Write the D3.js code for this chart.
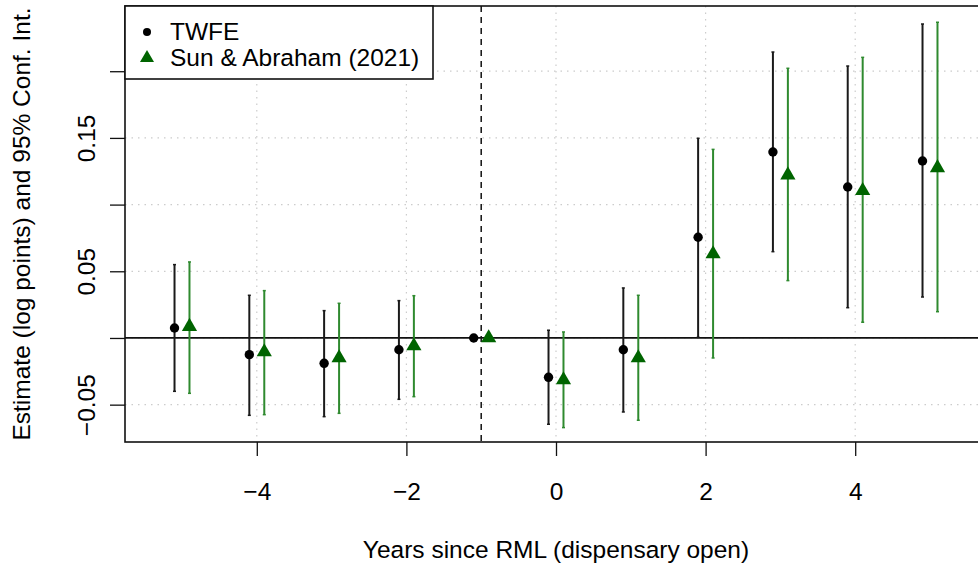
<!DOCTYPE html>
<html lang="en">
<head>
  <meta charset="UTF-8" />
  <title>Event study: TWFE vs Sun & Abraham</title>
  <script src="https://d3js.org/d3.v7.min.js"></script>
  <style>
    body { margin: 0; background: white; }
    svg { display: block; }
    text { font-family: "Liberation Sans", Arial, Helvetica, sans-serif; fill: black; }
  </style>
</head>
<body>
  <svg width="978" height="565"></svg>

  <script>
    // Years since RML
    const years = [-5, -4, -3, -2, -1, 0, 1, 2, 3, 4, 5];

    // TWFE estimates and 95% CI
    const twfeEst = [0.0075, -0.0125, -0.0190, -0.0088, 0.0, -0.0295, -0.0088, 0.0755, 0.1394, 0.1132, 0.1327];
    const twfeLo  = [-0.0400, -0.0580, -0.0590, -0.0460, 0.0, -0.0647, -0.0555, 0.0005, 0.0647, 0.0227, 0.0307];
    const twfeHi  = [0.0550, 0.0320, 0.0205, 0.0280, 0.0, 0.0058, 0.0375, 0.1497, 0.2144, 0.2039, 0.2354];

    // Sun & Abraham (2021) estimates and 95% CI
    const saEst = [0.0085, -0.0105, -0.0150, -0.0060, 0.0, -0.0315, -0.0150, 0.0630, 0.1221, 0.1104, 0.1276];
    const saLo  = [-0.0415, -0.0575, -0.0565, -0.0440, 0.0, -0.0672, -0.0617, -0.0150, 0.0430, 0.0118, 0.0197];
    const saHi  = [0.0570, 0.0355, 0.0260, 0.0317, 0.0, 0.0045, 0.0320, 0.1414, 0.2022, 0.2104, 0.2367];

    const xTicks = [-4, -2, 0, 2, 4];
    const yTicks = [-0.05, 0, 0.05, 0.10, 0.15, 0.20];
    const yLabelled = [-0.05, 0.05, 0.15];

    const seriesNames = ["TWFE", "Sun & Abraham (2021)"];

    const svg = d3.select("svg");
    const fontSize = "24.5px";

    const margin = { top: 6, left: 125 },
          plotRight = 987,
          plotBottom = 442;

    const x = d3.scaleLinear()
      .domain([-5.762, 5.762])
      .range([margin.left, plotRight]);

    const y = d3.scaleLinear()
      .domain([-0.0780, 0.2489])
      .range([plotBottom, margin.top]);

    const minus = s => s.replace("-", "\u2212");

    // grid
    svg.append("g").selectAll("line")
      .data(xTicks)
      .join("line")
      .attr("x1", d => x(d)).attr("x2", d => x(d))
      .attr("y1", margin.top).attr("y2", plotBottom)
      .attr("stroke", "#cccccc")
      .attr("stroke-width", 1.2)
      .attr("stroke-dasharray", "1.5,5");

    svg.append("g").selectAll("line")
      .data(yTicks)
      .join("line")
      .attr("x1", margin.left).attr("x2", plotRight)
      .attr("y1", d => y(d)).attr("y2", d => y(d))
      .attr("stroke", "#cccccc")
      .attr("stroke-width", 1.2)
      .attr("stroke-dasharray", "1.5,5");

    // reference lines
    svg.append("line")
      .attr("x1", margin.left).attr("x2", plotRight)
      .attr("y1", y(0)).attr("y2", y(0))
      .attr("stroke", "#111")
      .attr("stroke-width", 1.8);

    svg.append("line")
      .attr("x1", x(-1)).attr("x2", x(-1))
      .attr("y1", margin.top).attr("y2", plotBottom)
      .attr("stroke", "#111")
      .attr("stroke-width", 1.5)
      .attr("stroke-dasharray", "6,5");

    // axes (R style: ticks outside, labels only on some y ticks)
    const xAxis = d3.axisBottom(x)
      .tickValues(xTicks)
      .tickSize(14)
      .tickPadding(27)
      .tickFormat(d => minus(d3.format("d")(d)));

    const gx = svg.append("g")
      .attr("transform", `translate(0,${plotBottom})`)
      .call(xAxis);
    gx.select(".domain").remove();
    gx.selectAll(".tick line").attr("stroke", "#111").attr("stroke-width", 1.3);
    gx.selectAll(".tick text")
      .style("font-size", fontSize)
      .attr("fill", "black");

    const yAxis = d3.axisLeft(y)
      .tickValues(yTicks)
      .tickSize(15)
      .tickFormat(d => yLabelled.some(v => Math.abs(v - d) < 1e-9) ? minus(d3.format(".2f")(d)) : "");

    const gy = svg.append("g")
      .attr("transform", `translate(${margin.left},0)`)
      .call(yAxis);
    gy.select(".domain").remove();
    gy.selectAll(".tick line").attr("stroke", "#111").attr("stroke-width", 1.3);
    gy.selectAll(".tick text")
      .attr("x", 0)
      .attr("dy", 0)
      .attr("text-anchor", "middle")
      .attr("transform", "translate(-30,0) rotate(-90)")
      .style("font-size", fontSize)
      .attr("fill", "black");

    // series
    const series = [
      { name: seriesNames[0], est: twfeEst, lo: twfeLo, hi: twfeHi, off: -0.1,
        bar: "#1a1a1a", mark: "black", shape: "circle" },
      { name: seriesNames[1], est: saEst, lo: saLo, hi: saHi, off: 0.1,
        bar: "#2f8a2f", mark: "#006400", shape: "triangle" }
    ];

    const circle = d3.symbol().type(d3.symbolCircle).size(Math.PI * 4.7 * 4.7);
    const triangle = d3.symbol().type(d3.symbolTriangle).size(100);

    series.forEach(s => {
      const g = svg.append("g");
      const rows = years.map((yr, i) => ({ yr, est: s.est[i], lo: s.lo[i], hi: s.hi[i] }));

      // confidence intervals (skip the reference year)
      const ci = rows.filter(d => d.lo !== d.hi);
      g.selectAll(".ci")
        .data(ci)
        .join("line")
        .attr("x1", d => x(d.yr + s.off)).attr("x2", d => x(d.yr + s.off))
        .attr("y1", d => y(d.lo)).attr("y2", d => y(d.hi))
        .attr("stroke", s.bar)
        .attr("stroke-width", 2);

      ["lo", "hi"].forEach(k => {
        g.selectAll(".cap-" + k)
          .data(ci)
          .join("line")
          .attr("x1", d => x(d.yr + s.off) - 1.5).attr("x2", d => x(d.yr + s.off) + 1.5)
          .attr("y1", d => y(d[k])).attr("y2", d => y(d[k]))
          .attr("stroke", s.bar)
          .attr("stroke-width", 1.5);
      });

      g.selectAll(".pt")
        .data(rows)
        .join("path")
        .attr("transform", d => `translate(${x(d.yr + s.off)},${y(d.est)})`)
        .attr("d", s.shape === "circle" ? circle() : triangle())
        .attr("fill", s.mark);
    });

    // plot box
    svg.append("rect")
      .attr("x", margin.left).attr("y", margin.top)
      .attr("width", plotRight - margin.left)
      .attr("height", plotBottom - margin.top)
      .attr("fill", "none")
      .attr("stroke", "#111")
      .attr("stroke-width", 1.6);

    // legend
    const lg = svg.append("g");
    lg.append("rect")
      .attr("x", margin.left).attr("y", margin.top)
      .attr("width", 308).attr("height", 73)
      .attr("fill", "white")
      .attr("stroke", "#111")
      .attr("stroke-width", 1.6);

    lg.append("path")
      .attr("transform", "translate(147,32)")
      .attr("d", d3.symbol().type(d3.symbolCircle).size(Math.PI * 4 * 4)())
      .attr("fill", "black");
    lg.append("path")
      .attr("transform", "translate(147,58)")
      .attr("d", d3.symbol().type(d3.symbolTriangle).size(85)())
      .attr("fill", "#006400");

    lg.selectAll("text")
      .data(seriesNames)
      .join("text")
      .attr("x", 170)
      .attr("y", (d, i) => 31 + i * 26)
      .attr("dy", "0.35em")
      .style("font-size", fontSize)
      .text(d => d);

    // axis titles
    svg.append("text")
      .attr("x", x(0))
      .attr("y", 549)
      .attr("dy", "0.35em")
      .attr("text-anchor", "middle")
      .style("font-size", fontSize)
      .text("Years since RML (dispensary open)");

    svg.append("text")
      .attr("transform", `translate(30,${(margin.top + plotBottom) / 2}) rotate(-90)`)
      .attr("text-anchor", "middle")
      .style("font-size", fontSize)
      .text("Estimate (log points) and 95% Conf. Int.");
  </script>
</body>
</html>
